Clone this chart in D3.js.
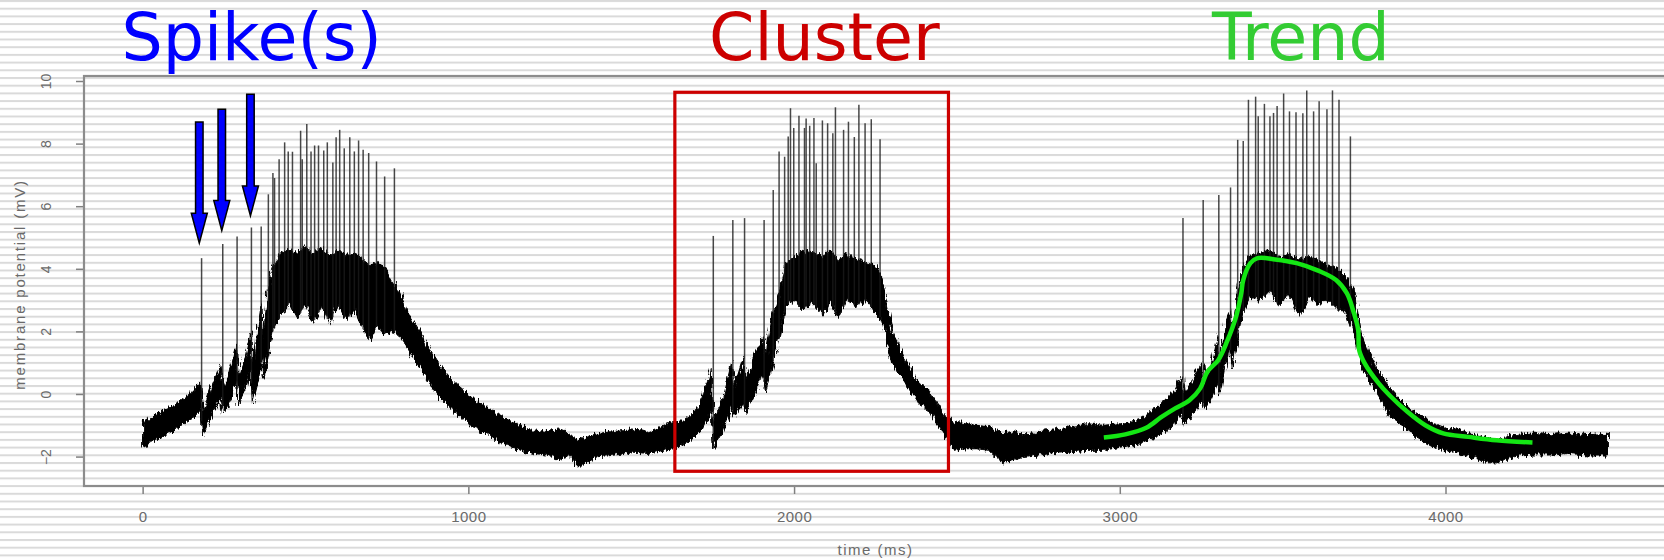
<!DOCTYPE html>
<html>
<head>
<meta charset="utf-8">
<script src="https://cdn.jsdelivr.net/npm/d3@7"></script>
<style>
  body { margin: 0; background: #fff; }
  svg { display: block; }
</style>
</head>
<body>
<div id="chart"></div>
<script>
// membrane trace: time (ms), lower / upper edge of the noisy band (mV)
var envT = [0, 25, 50, 75, 100, 125, 150, 175, 178, 184, 210, 240, 248, 270, 288, 293, 315, 332, 337, 355, 366, 370, 385, 400,
  425, 450, 475, 500, 525, 550, 575, 600, 625, 650, 675, 700, 720, 745, 765, 785, 810, 840, 870, 900, 930, 960, 1000,
  1030, 1060, 1100, 1130, 1160, 1200, 1240, 1280, 1310, 1340, 1370, 1400, 1450, 1500, 1550, 1600, 1630, 1660, 1690,
  1720, 1745, 1752, 1780, 1808, 1815, 1845, 1852, 1880, 1905, 1912, 1935, 1955, 1975, 2000, 2025, 2059, 2090, 2110,
  2135, 2160, 2190, 2220, 2250, 2270, 2300, 2333, 2377, 2420, 2464, 2490, 2530, 2560, 2600, 2640, 2670, 2700, 2750,
  2800, 2850, 2900, 2950, 3000, 3060, 3115, 3170, 3192, 3198, 3220, 3252, 3258, 3280, 3302, 3306, 3325, 3340, 3345,
  3362, 3380, 3400, 3433, 3460, 3488, 3520, 3552, 3580, 3610, 3640, 3670, 3697, 3719, 3741, 3763, 3795, 3828, 3855,
  3883, 3910, 3938, 3965, 3993, 4048, 4102, 4130, 4157, 4210, 4267, 4320, 4377, 4440, 4497];
var envLo = [-1.7, -1.55, -1.45, -1.3, -1.15, -0.95, -0.8, -0.55, -0.4, -1.35, -0.7, -0.1, -0.6, -0.2, 0.5, -0.35, 0.1, 0.8, -0.35, 0.4, 1.2, 0.5, 1.3, 2.0,
  2.5, 2.9, 2.4, 2.9, 2.3, 2.8, 2.2, 2.9, 2.3, 2.7, 2.1, 1.7, 2.2, 1.9, 2.0, 1.9, 1.5, 1.0, 0.5, 0.0, -0.3, -0.6, -0.95,
  -1.15, -1.3, -1.55, -1.7, -1.8, -1.9, -1.95, -2.1, -2.0, -2.35, -2.15, -2.0, -1.95, -1.85, -1.9, -1.8, -1.75, -1.6, -1.4,
  -1.1, -0.5, -1.75, -1.2, -0.4, -0.75, -0.2, -0.6, 0.0, 0.6, 0.1, 1.0, 1.8, 2.8, 3.0, 2.7, 2.9, 2.5, 3.0,
  2.4, 3.0, 2.8, 3.0, 2.6, 2.4, 1.0, 0.45, -0.2, -0.65, -1.35, -1.8, -1.75, -1.75, -1.8, -2.2, -2.1, -2.0, -1.95,
  -1.9, -1.85, -1.8, -1.8, -1.7, -1.6, -1.35, -0.95, -0.6, -1.0, -0.7, -0.2, -0.5, -0.2, 0.4, -0.1, 1.0, 1.4, 0.8,
  1.8, 2.7, 3.1, 3.0, 3.3, 2.8, 3.2, 2.45, 3.1, 2.9, 3.0, 2.7, 2.6, 1.9, 1.0, 0.45, -0.1, -0.7, -0.9,
  -1.15, -1.4, -1.55, -1.7, -1.8, -1.9, -2.1, -2.2, -2.2, -2.0, -1.95, -1.95, -1.9, -1.95, -1.95];
var envHi = [-0.9, -0.75, -0.6, -0.45, -0.3, -0.15, 0.05, 0.35, 0.45, -0.6, 0.2, 0.95, 0.2, 0.9, 1.6, 0.6, 1.2, 2.0, 0.7, 2.2, 3.0, 1.8, 3.3, 4.0,
  4.5, 4.6, 4.5, 4.7, 4.5, 4.7, 4.4, 4.6, 4.4, 4.5, 4.3, 4.1, 4.2, 4.0, 3.6, 3.3, 2.7, 2.2, 1.6, 1.1, 0.7, 0.35, 0.0,
  -0.25, -0.45, -0.7, -0.85, -1.0, -1.15, -1.2, -1.15, -1.3, -1.45, -1.35, -1.25, -1.2, -1.15, -1.2, -1.0, -0.9, -0.85, -0.6,
  -0.1, 0.9, -0.9, -0.2, 1.0, 0.2, 1.2, 0.5, 1.3, 1.8, 1.2, 2.6, 3.3, 4.2, 4.4, 4.6, 4.5, 4.4, 4.6,
  4.3, 4.5, 4.3, 4.2, 4.1, 3.7, 2.1, 1.25, 0.45, 0.05, -0.7, -0.9, -0.95, -1.0, -1.05, -1.25, -1.2, -1.3, -1.2,
  -1.15, -1.05, -0.95, -1.0, -0.95, -0.85, -0.4, 0.1, 0.6, 0.0, 0.4, 1.0, 0.3, 0.9, 1.9, 0.8, 2.3, 2.7, 2.0,
  3.2, 4.1, 4.4, 4.5, 4.6, 4.4, 4.5, 4.3, 4.4, 4.3, 4.1, 4.0, 3.7, 3.3, 2.0, 1.4, 0.7, 0.2, -0.1,
  -0.4, -0.6, -0.8, -0.95, -1.05, -1.15, -1.35, -1.4, -1.5, -1.3, -1.25, -1.3, -1.25, -1.3, -1.25];

// action potentials: time (ms) and peak (mV)
var spikeT = [181, 246, 290, 334, 364, 386, 400, 405, 419, 436, 447, 460, 485, 490, 504, 517, 528, 540, 556, 567, 584, 594,
  605, 619, 636, 650, 663, 677, 694, 718, 743, 773,
  1752, 1812, 1848, 1908, 1936, 1954, 1971, 1982, 1989, 1999, 2015, 2032, 2037, 2048, 2061, 2068, 2087, 2103, 2119, 2127,
  2152, 2167, 2185, 2199, 2218, 2237, 2264,
  3194, 3256, 3304, 3340, 3362, 3379, 3395, 3417, 3425, 3444, 3461, 3472, 3483, 3503, 3521, 3541, 3562, 3574, 3595,
  3612, 3636, 3653, 3673, 3708];
var spikePeak = [4.34, 4.79, 5.03, 5.32, 5.35, 6.38, 7.06, 6.9, 7.5, 8.04, 7.75, 7.74, 8.41, 7.5, 8.63, 7.75, 7.94, 7.94, 7.78, 8.04, 7.4, 8.2,
  8.44, 7.85, 8.2, 7.75, 8.1, 7.8, 7.7, 7.43, 6.95, 7.21,
  5.05, 5.56, 5.62, 5.56, 6.52, 7.75, 7.58, 8.23, 9.13, 8.5, 8.89, 8.5, 8.8, 8.57, 8.82, 7.37, 8.74, 8.65, 8.33, 9.16,
  8.44, 8.7, 8.21, 9.24, 8.65, 8.78, 8.14,
  5.62, 6.2, 6.36, 6.6, 8.12, 8.08, 9.4, 9.5, 8.87, 9.27, 8.87, 8.98, 9.2, 9.6, 9.03, 9.0, 8.97, 9.7, 9.03,
  9.35, 9.1, 9.7, 9.4, 8.23];

// green smoothed trend
var trendT = [2951, 3017, 3083, 3126, 3170, 3214, 3247, 3269, 3302, 3329, 3357, 3373, 3379, 3401, 3423, 3477, 3543, 3609,
  3664, 3697, 3719, 3732, 3735, 3752, 3795, 3828, 3883, 3938, 3993, 4070, 4157, 4267];
var trendV = [-1.39, -1.29, -1.07, -0.75, -0.46, -0.2, 0.18, 0.71, 1.08, 1.67, 2.47, 3.22, 3.64, 4.18, 4.34, 4.3, 4.18, 3.94,
  3.64, 3.22, 2.58, 2.04, 1.4, 0.98, 0.34, -0.04, -0.57, -1.0, -1.26, -1.37, -1.48, -1.55];

// annotations
var arrowT = [174, 243, 331];
var arrowTop = [8.69, 9.1, 9.58];
var arrowTip = [4.82, 5.22, 5.69];
var boxT = [1634, 2474];
var boxV = [-2.47, 9.64];
var titleText = ["Spike(s)", "Cluster", "Trend"];
var titleT = [335, 2093, 3556];
var titleColor = ["#0000ff", "#cc0000", "#33cc33"];

var xTicks = [0, 1000, 2000, 3000, 4000];
var yTicks = [-2, 0, 2, 4, 6, 8, 10];

var svgWidth = 1664;
var svgHeight = 560;

var svg = d3.select("#chart")
  .append("svg")
  .attr("width", svgWidth)
  .attr("height", svgHeight);

// striped slide background
var defs = svg.append("defs");
var pat = defs.append("pattern")
  .attr("id", "stripes")
  .attr("patternUnits", "userSpaceOnUse")
  .attr("width", 16)
  .attr("height", 7.7);
pat.append("rect").attr("width", 16).attr("height", 7.7).attr("fill", "#ffffff");
pat.append("rect").attr("y", 0).attr("width", 16).attr("height", 2).attr("fill", "#dadada");

svg.append("rect")
  .attr("width", svgWidth)
  .attr("height", svgHeight)
  .attr("fill", "url(#stripes)");

// rough edge for the noisy trace
var filt = defs.append("filter").attr("id", "rough")
  .attr("x", "-2%").attr("y", "-10%").attr("width", "104%").attr("height", "120%");
filt.append("feTurbulence")
  .attr("type", "fractalNoise")
  .attr("baseFrequency", "0.45 0.08")
  .attr("numOctaves", 2)
  .attr("result", "noise");
filt.append("feDisplacementMap")
  .attr("in", "SourceGraphic")
  .attr("in2", "noise")
  .attr("scale", 9)
  .attr("xChannelSelector", "B")
  .attr("yChannelSelector", "G");

var x = d3.scaleLinear().domain([-180, 4680]).range([84, 1667]);
var y = d3.scaleLinear().domain([-2.94, 10.16]).range([486, 76]);

var axisColor = "#808080";
var textColor = "#6a6a6a";

// axes
var bottomAxis = d3.axisBottom(x).tickValues(xTicks).tickSize(8).tickPadding(17).tickFormat(d3.format("d"));
var leftAxis = d3.axisLeft(y).tickValues(yTicks).tickSize(8).tickFormat(d3.format("d"));

var gx = svg.append("g")
  .attr("transform", "translate(0," + 486 + ")")
  .call(bottomAxis);
gx.select(".domain").remove();
gx.selectAll("line").attr("stroke", axisColor).attr("stroke-width", 1.5);
gx.selectAll("text")
  .attr("fill", textColor)
  .style("font-family", "Liberation Sans, sans-serif")
  .style("font-size", "15px")
  .attr("letter-spacing", "0.5px");

var gy = svg.append("g")
  .attr("transform", "translate(84,0)")
  .call(leftAxis);
gy.select(".domain").remove();
gy.selectAll("line").attr("stroke", axisColor).attr("stroke-width", 1.5);
gy.selectAll("text")
  .attr("x", null)
  .attr("dy", "0.35em")
  .attr("text-anchor", "middle")
  .attr("transform", "translate(-38,0) rotate(-90)")
  .attr("fill", textColor)
  .style("font-family", "Liberation Sans, sans-serif")
  .style("font-size", "14px");

// plot frame
svg.append("rect")
  .attr("x", x(-180))
  .attr("y", y(10.16))
  .attr("width", x(4680) - x(-180))
  .attr("height", y(-2.94) - y(10.16))
  .attr("fill", "none")
  .attr("stroke", "#8c8c8c")
  .attr("stroke-width", 2.2);

svg.append("text")
  .attr("transform", "translate(20," + y(3.5) + ") rotate(-90)")
  .attr("dy", "0.35em")
  .attr("text-anchor", "middle")
  .attr("fill", textColor)
  .style("font-family", "Liberation Sans, sans-serif")
  .style("font-size", "15px")
  .attr("letter-spacing", "1.8px")
  .text("membrane potential (mV)");

svg.append("text")
  .attr("x", x(2250))
  .attr("y", 555)
  .attr("text-anchor", "middle")
  .attr("fill", textColor)
  .style("font-family", "Liberation Sans, sans-serif")
  .style("font-size", "15px")
  .attr("letter-spacing", "1.5px")
  .text("time (ms)");

// trace band
var band = envT.map(function (t, i) { return { t: t, lo: envLo[i], hi: envHi[i] }; });
var area = d3.area()
  .x(function (d) { return x(d.t); })
  .y0(function (d) { return y(d.lo); })
  .y1(function (d) { return y(d.hi); });

svg.append("path")
  .datum(band)
  .attr("d", area)
  .attr("fill", "#000")
  .attr("stroke", "#000")
  .attr("stroke-width", 1)
  .attr("filter", "url(#rough)");

// spikes
var loAt = d3.scaleLinear().domain(envT).range(envLo);
var spikes = spikeT.map(function (t, i) { return { t: t, peak: spikePeak[i] }; });

svg.append("g").selectAll("line")
  .data(spikes)
  .enter()
  .append("line")
  .attr("x1", function (d) { return x(d.t); })
  .attr("x2", function (d) { return x(d.t); })
  .attr("y1", function (d) { return y(loAt(d.t)); })
  .attr("y2", function (d) { return y(d.peak); })
  .attr("stroke", "#1a1a1a")
  .attr("stroke-opacity", 0.8)
  .attr("stroke-width", 1.5);

// trend line
var trend = trendT.map(function (t, i) { return { t: t, v: trendV[i] }; });
svg.append("path")
  .datum(trend)
  .attr("d", d3.line()
    .x(function (d) { return x(d.t); })
    .y(function (d) { return y(d.v); })
    .curve(d3.curveCatmullRom))
  .attr("fill", "none")
  .attr("stroke", "#14e614")
  .attr("stroke-width", 4.5)
  .attr("stroke-linejoin", "round");

// cluster box
svg.append("rect")
  .attr("x", x(boxT[0]))
  .attr("y", y(boxV[1]))
  .attr("width", x(boxT[1]) - x(boxT[0]))
  .attr("height", y(boxV[0]) - y(boxV[1]))
  .attr("fill", "none")
  .attr("stroke", "#cc0000")
  .attr("stroke-width", 3.2);

// spike arrows
var shaftW = 7.5, headW = 16, headL = 30;
var arrows = arrowT.map(function (t, i) { return { t: t, top: arrowTop[i], tip: arrowTip[i] }; });
svg.append("g").selectAll("path")
  .data(arrows)
  .enter()
  .append("path")
  .attr("d", function (d) {
    var cx = x(d.t), y0 = y(d.top), y1 = y(d.tip), yh = y1 - headL;
    return "M" + (cx - shaftW / 2) + "," + y0 +
      "L" + (cx + shaftW / 2) + "," + y0 +
      "L" + (cx + shaftW / 2) + "," + yh +
      "L" + (cx + headW / 2) + "," + yh +
      "L" + cx + "," + y1 +
      "L" + (cx - headW / 2) + "," + yh +
      "L" + (cx - shaftW / 2) + "," + yh + "Z";
  })
  .attr("fill", "#0000ff")
  .attr("stroke", "#000")
  .attr("stroke-width", 1.5)
  .attr("stroke-linejoin", "miter");

// titles
svg.append("g").selectAll("text")
  .data(titleText)
  .enter()
  .append("text")
  .attr("x", function (d, i) { return x(titleT[i]); })
  .attr("y", 60)
  .attr("text-anchor", "middle")
  .attr("fill", function (d, i) { return titleColor[i]; })
  .style("font-family", "DejaVu Sans, sans-serif")
  .style("font-size", "65px")
  .text(function (d) { return d; });
</script>
</body>
</html>
